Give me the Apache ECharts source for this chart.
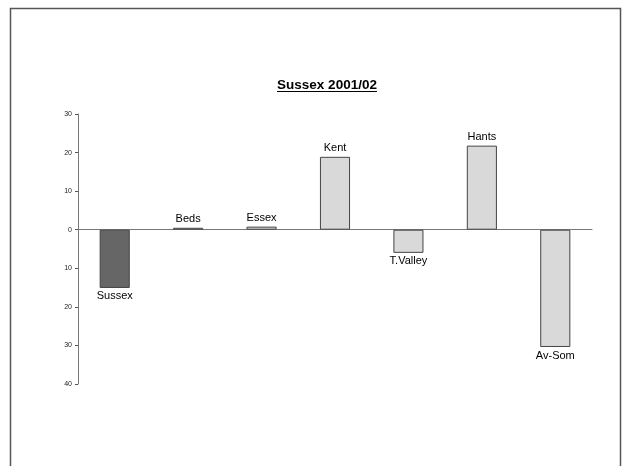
<!DOCTYPE html>
<html><head><meta charset="utf-8">
<script src="https://cdn.jsdelivr.net/npm/echarts@6/dist/echarts.min.js"></script>
<style>html,body{margin:0;padding:0;background:#fff}#c{width:627px;height:466px}</style>
</head><body><div id="c"></div>
<script>
const categories = ['Sussex','Beds','Essex','Kent','T.Valley','Hants','Av-Som'];
const values = [-15.1, 0.5, 0.8, 18.9, -6.0, 21.8, -30.4];
const yTicks = [-40, -30, -20, -10, 0, 10, 20, 30];
const titleText = 'Sussex 2001/02';

const chart = echarts.init(document.getElementById('c'), null, {renderer:'canvas'});
const data = values.map((v, i) => ({
  value: v,
  itemStyle: { color: i === 0 ? '#666666' : '#d9d9d9', borderColor: '#444', borderWidth: 1 },
  label: { position: v >= 0 ? 'top' : 'bottom' }
}));
chart.setOption({
  backgroundColor: '#fff',
  animation: false,
  title: { text: titleText, left: 322, textAlign: 'center', top: 73.5,
    textStyle: { fontFamily: 'Liberation Sans, Arial', fontSize: 13.5, fontWeight: 'bold', color: '#000' } },
  graphic: [
    { type: 'rect', shape: { x: 10.5, y: 8.5, width: 610, height: 480 },
      style: { fill: 'none', stroke: '#555', lineWidth: 1.5 } },
    { type: 'line', shape: { x1: 277, y1: 91.5, x2: 377, y2: 91.5 },
      style: { stroke: '#000', lineWidth: 1 } }
  ],
  grid: { left: 78, right: 35, top: 114, bottom: 82 },
  xAxis: {
    type: 'category', data: categories,
    axisLine: { onZero: true, lineStyle: { color: '#777', width: 1 } },
    axisTick: { show: false }, axisLabel: { show: false }
  },
  yAxis: {
    type: 'value', min: yTicks[0], max: yTicks[yTicks.length-1], interval: 10,
    axisLine: { show: true, lineStyle: { color: '#777' } },
    axisTick: { show: true, length: 3, lineStyle: { color: '#555' } },
    splitLine: { show: false },
    axisLabel: { fontSize: 7, color: '#222', fontFamily: 'Liberation Sans, Arial', margin: 6,
      formatter: v => String(Math.abs(v)) }
  },
  series: [{
    type: 'bar', data: data, barWidth: '41%',
    label: { show: true, formatter: p => categories[p.dataIndex], fontSize: 11,
      fontFamily: 'Liberation Sans, Arial', color: '#000', distance: 3 }
  }]
});
</script></body></html>
